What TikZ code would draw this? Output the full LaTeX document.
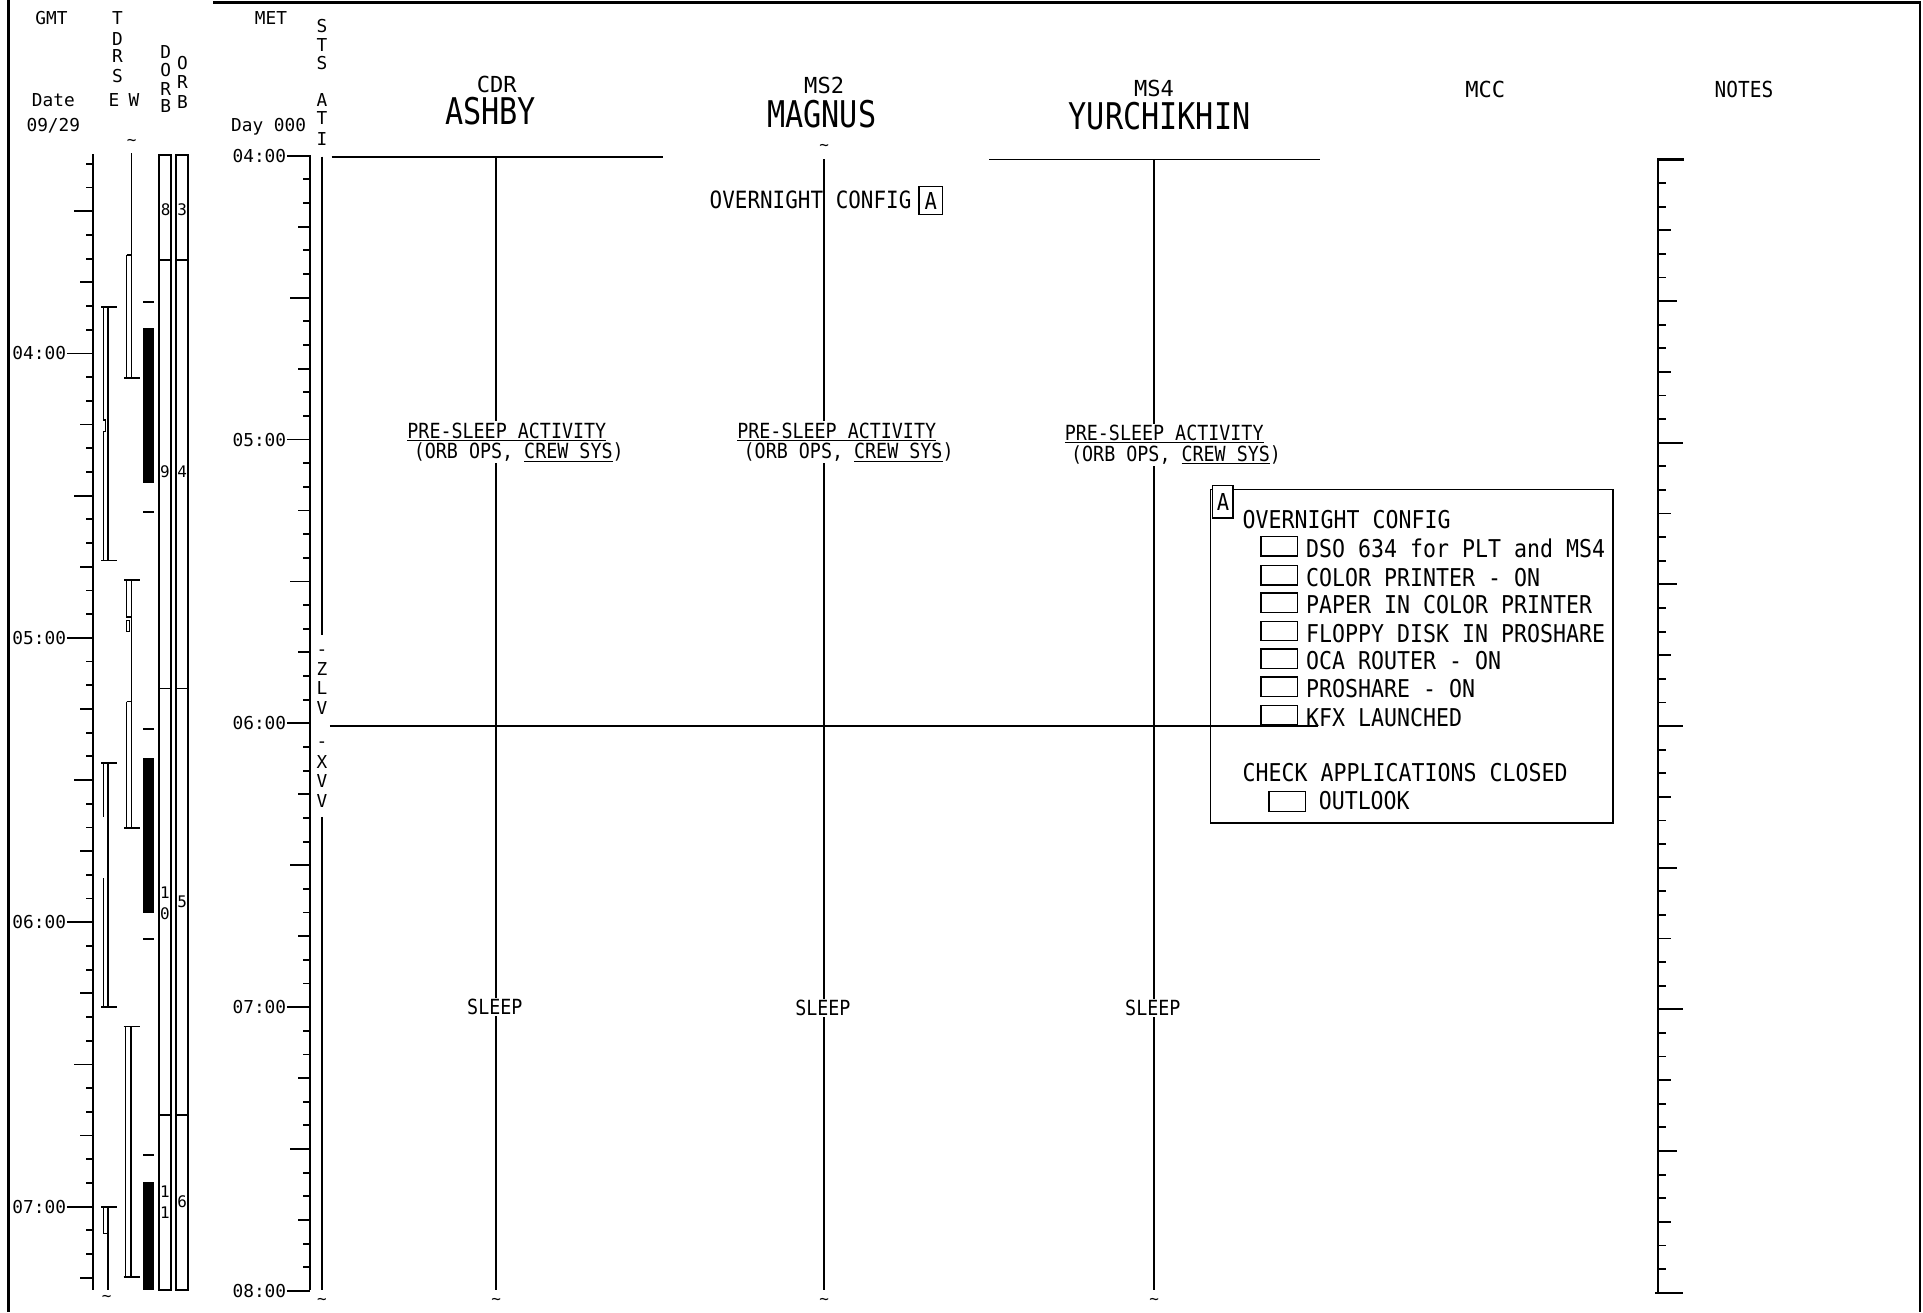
\documentclass[tikz,border=0pt]{standalone}
\usepackage{fontspec}
\newfontfamily\dmono{DejaVu Sans Mono}
\newfontfamily\dmcond[FakeStretch=0.88]{DejaVu Sans Mono}
\newfontfamily\dmhead[FakeStretch=0.82]{DejaVu Sans Mono}
\begin{document}
\begin{tikzpicture}[x=1pt,y=-1pt,line width=1.4pt,
  framel/.style={line width=2.2pt},
  axisl/.style={line width=1.8pt},
  tickl/.style={line width=1.5pt},
  crewl/.style={line width=1.5pt},
  thinl/.style={line width=1.1pt},
  boxl/.style={line width=1.3pt},
  lab/.style={inner sep=0pt,font=\fontsize{14.5}{15}\selectfont\dmono,text height=10.6pt,text depth=0pt},
  dig/.style={inner sep=0pt,font=\fontsize{13}{14}\selectfont\dmono,text height=9.5pt,text depth=0pt},
  hd/.style={inner sep=0pt,font=\fontsize{18}{20}\selectfont\dmono,anchor=base},
  nm/.style={inner sep=0pt,font=\fontsize{30}{32}\selectfont\dmhead,anchor=base},
  bx/.style={inner sep=0pt,font=\fontsize{20}{22}\selectfont\dmcond,anchor=base west},
  act/.style={inner sep=1pt,fill=white,font=\fontsize{17}{18}\selectfont\dmcond,anchor=base west},
  slp/.style={inner sep=1pt,fill=white,font=\fontsize{17}{18}\selectfont\dmcond,text height=12.4pt,text depth=0pt},
  tld/.style={inner sep=0pt,font=\fontsize{13}{14}\selectfont\dmono},
]
\useasboundingbox (0,0) rectangle (1568,1069.8);

% frame
\draw[framel] (6.8,0) -- (6.8,1069.8);
\draw[framel] (174,2) -- (1565.5,2) -- (1565.5,1069.8);

% headers left
\node[lab] (gmt) at (42,15) {GMT};
\node[lab] (met) at (221,15) {MET};
\node[lab] (date) at (43.5,81.5) {Date};
\node[lab] (ddate) at (43.5,102) {09/29};
\node[lab] (day) at (219,102) {Day 000};
\foreach \c/\yy [count=\i] in {T/15,D/31.4,R/46,S/61.6} \node[lab] (tdrs\i) at (95.8,\yy) {\c};
\node[lab] (tE) at (93,81.5) {E};
\node[lab] (tW) at (109.3,81.5) {W};
\foreach \c/\yy [count=\i] in {D/42,O/57,R/72.2,B/86.8} \node[lab] (dorb\i) at (135.2,\yy) {\c};
\foreach \c/\yy [count=\i] in {O/51,R/66.5,B/82.8} \node[lab] (orb\i) at (148.8,\yy) {\c};
\foreach \c/\yy [count=\i] in {S/20.9,T/36.7,S/51,A/81.5,T/96.6,I/113} \node[lab] (sts\i) at (262.5,\yy) {\c};
\foreach \c/\yy [count=\i] in {-/529,Z/545.6,L/561,V/577.6,-/604,X/621,V/637,V/653} \node[lab] (att\i) at (262.5,\yy) {\c};

% crew headers
\node[hd] (hcdr) at (405,75.6) {CDR};
\node[nm] (ncdr) at (400,101.9) {ASHBY};
\node[hd] (hms2) at (672,76.6) {MS2};
\node[nm] (nms2) at (670,103.9) {MAGNUS};
\node[hd] (hms4) at (941,78.6) {MS4};
\node[nm] (nms4) at (945.5,105.9) {YURCHIKHIN};
\node[hd] (hmcc) at (1211,79.6) {MCC};
\node[hd,font=\fontsize{18}{20}\selectfont\dmcond] (hnotes) at (1422,79.6) {NOTES};

% GMT axis
\draw[axisl] (76,125.6) -- (76,1052);
\foreach \m in {200,205,...,435}{
  \pgfmathsetmacro\yy{288.2+231.9*(\m/60-4)}
  \pgfmathtruncatemacro\r{mod(\m,60)}
  \ifnum\r=0\relax
  \else
    \ifnum\r=30\relax \def\tkl{15.8}\else
      \ifnum\r=15\relax \def\tkl{10.6}\else
        \ifnum\r=45\relax \def\tkl{10.6}\else \def\tkl{5.7}\fi\fi\fi
    \draw[tickl] (76,\yy) -- ++(-\tkl,0);
  \fi
}
\foreach \h/\m in {04/240,05/300,06/360,07/420}{
  \pgfmathsetmacro\yy{288.2+231.9*(\m/60-4)}
  \node[lab,anchor=east] (g\h) at (54.5,\yy) {\h:00};
  \draw[tickl] (g\h.east) -- (76,\yy);
}

% MET axis
\draw[axisl] (252.8,126.4) -- (252.8,1052);
\foreach \m in {5,10,...,235}{
  \pgfmathsetmacro\yy{127+231.4*(\m/60)}
  \pgfmathtruncatemacro\r{mod(\m,60)}
  \ifnum\r=0\relax
  \else
    \ifnum\r=30\relax \def\tkl{16.3}\else
      \ifnum\r=15\relax \def\tkl{9.8}\else
        \ifnum\r=45\relax \def\tkl{9.8}\else \def\tkl{5.4}\fi\fi\fi
    \draw[tickl] (252.8,\yy) -- ++(-\tkl,0);
  \fi
}
\foreach \h/\t in {04/0,05/1,06/2,07/3,08/4}{
  \pgfmathsetmacro\yy{127+231.4*\t}
  \node[lab,anchor=east] (m\h) at (234,\yy) {\h:00};
  \draw[tickl] (m\h.east) -- (252.8,\yy);
}

% DORB / ORB columns
\draw[boxl] (129.6,126.5) rectangle (139.4,1052);
\draw[boxl] (143.5,126.5) rectangle (153.3,1052);
\foreach \yy in {212,561.5,909} \draw[boxl] (129.6,\yy) -- (139.4,\yy) (143.5,\yy) -- (153.3,\yy);
\node[dig] (o8) at (135,171) {8};
\node[dig] (o3) at (148.5,171) {3};
\node[dig] (o9) at (134.5,385) {9};
\node[dig] (o4) at (148.5,385) {4};
\node[dig] (o10a) at (134.5,728) {1};
\node[dig] (o10b) at (134.5,745) {0};
\node[dig] (o5) at (148.5,735) {5};
\node[dig] (o11a) at (134.5,972) {1};
\node[dig] (o11b) at (134.5,989) {1};
\node[dig] (o6) at (148.5,980) {6};

% black bars
\fill (116.6,267.5) rectangle (125.6,394);
\fill (116.6,617.8) rectangle (125.6,744.2);
\fill (116.6,963.5) rectangle (125.6,1052);
\foreach \yy in {246,417.7,594.7,765.6,941.8} \draw[tickl] (117,\yy) -- (125.6,\yy);

% TDRS E bars
\draw[thinl] (84.3,250) -- (84.3,342.5) -- (86.2,342.5) -- (86.2,352) -- (84.3,352) -- (84.3,457);
\draw[thinl] (88,250) -- (88,457);
\draw[tickl] (82.4,250) -- (95.7,250) (82.4,457) -- (95.7,457);
\draw[thinl] (84.3,622) -- (84.3,666) (84.3,716) -- (84.3,821) (88,622) -- (88,821);
\draw[tickl] (82.4,622) -- (95.7,622) (82.4,821) -- (95.7,821);
\draw[thinl] (84.3,984) -- (84.3,1005.6) -- (88,1005.6) (88,984) -- (88,1052);
\draw[tickl] (82.4,984) -- (95.7,984);

% TDRS W bars
\draw[thinl] (107.4,125) -- (107.4,308) (103.3,208) -- (107.4,208) (103.3,208) -- (103.3,308);
\draw[tickl] (101.5,308) -- (114.2,308);
\draw[thinl] (107.4,473) -- (107.4,675.4) (103.3,473) -- (103.3,503) -- (107.4,503) (103.3,572) -- (107.4,572) (103.3,572) -- (103.3,675.4);
\draw[thinl] (103.3,506) rectangle (105.5,515);
\draw[tickl] (101.5,473) -- (114.2,473) (101.5,675.4) -- (114.2,675.4);
\draw[thinl] (102.5,837) rectangle (106.8,1041);
\draw[tickl] (100.8,837) -- (114.2,837) (100.8,1041) -- (114.2,1041);

% tildes
\node[tld] (tl1) at (107.4,115.8) {\textasciitilde};
\node[tld] (tl2) at (672,120) {\textasciitilde};
\node[tld] (tl3) at (87,1059) {\textasciitilde};
\node[tld] (tl4) at (262.5,1061) {\textasciitilde};
\node[tld] (tl5) at (404.5,1061) {\textasciitilde};
\node[tld] (tl6) at (672,1061) {\textasciitilde};
\node[tld] (tl7) at (941,1061) {\textasciitilde};

% STS ATT line
\draw[axisl] (262.5,127.8) -- (262.5,518) (262.5,666) -- (262.5,1052);

% crew lines
\draw[crewl] (270.4,128.2) -- (540.7,128.2);
\draw[crewl] (806.5,130) -- (1076,130);
\draw[crewl] (404.5,128.2) -- (404.5,1052);
\draw[crewl] (672,130) -- (672,1052);
\draw[crewl] (941,130) -- (941,1052);
\draw[crewl] (269,592) -- (1074.7,592);

% overnight config top
\node[bx,font=\fontsize{19.4}{21}\selectfont\dmcond] (ovtop) at (578,170) {OVERNIGHT CONFIG};
\node[draw,boxl,inner sep=0pt,minimum width=19pt,minimum height=23pt,font=\fontsize{19}{20}\selectfont\dmcond] (atop) at (759,163.5) {A};

% pre-sleep
\foreach \who/\xx/\cc in {cdr/333/351,mstwo/602/351,msfour/869/353}{
  \node[act] (ps\who1) at (\xx-2.5,\cc+6.2) {\underline{PRE-SLEEP ACTIVITY}};
  \node[act] (ps\who2) at (\xx+2.7,\cc+23.2) {(ORB OPS, \underline{CREW SYS})};
}
\node[slp] (slcdr) at (403.5,821) {SLEEP};
\node[slp] (slms2) at (671,822) {SLEEP};
\node[slp] (slms4) at (940,822) {SLEEP};

% config box
\draw[boxl] (987,399) rectangle (1315,671);
\node[draw,boxl,fill=white,inner sep=0pt,minimum width=16.8pt,minimum height=26.4pt,font=\fontsize{19}{20}\selectfont\dmcond] (abox) at (997.2,409.2) {A};
\node[bx] (ovbox) at (1012.6,431.3) {OVERNIGHT CONFIG};
\foreach \t/\yy [count=\i] in {DSO 634 for PLT and MS4/447.4,COLOR PRINTER - ON/470.8,PAPER IN COLOR PRINTER/493.3,FLOPPY DISK IN PROSHARE/516.4,OCA ROUTER - ON/539,PROSHARE - ON/561.8,KFX LAUNCHED/584.9}{
  \draw[boxl] (1028,\yy-9.8) rectangle (1058,\yy+6);
  \node[bx] (it\i) at (1064.3,\yy+7.3) {\t};
}
\node[bx] (chkapp) at (1012.6,637.3) {CHECK APPLICATIONS CLOSED};
\draw[boxl] (1034.8,645.5) rectangle (1064.6,661.8);
\node[bx] (outl) at (1074.6,660.3) {OUTLOOK};

% notes axis
\draw[axisl] (1352.2,130) -- (1352.2,1054);
\draw[axisl] (1351.3,130) -- (1373,130);
\draw[axisl] (1349.5,1054) -- (1372,1054);
\foreach \m in {5,10,...,235}{
  \pgfmathsetmacro\yy{130+231*(\m/60)}
  \pgfmathtruncatemacro\r{mod(\m,60)}
  \ifnum\r=0\relax \def\tkl{20}\else
    \ifnum\r=30\relax \def\tkl{15.5}\else
      \ifnum\r=15\relax \def\tkl{10.6}\else
        \ifnum\r=45\relax \def\tkl{10.6}\else \def\tkl{6}\fi\fi\fi\fi
  \draw[tickl] (1352.2,\yy) -- ++(\tkl,0);
}
\end{tikzpicture}
\end{document}
